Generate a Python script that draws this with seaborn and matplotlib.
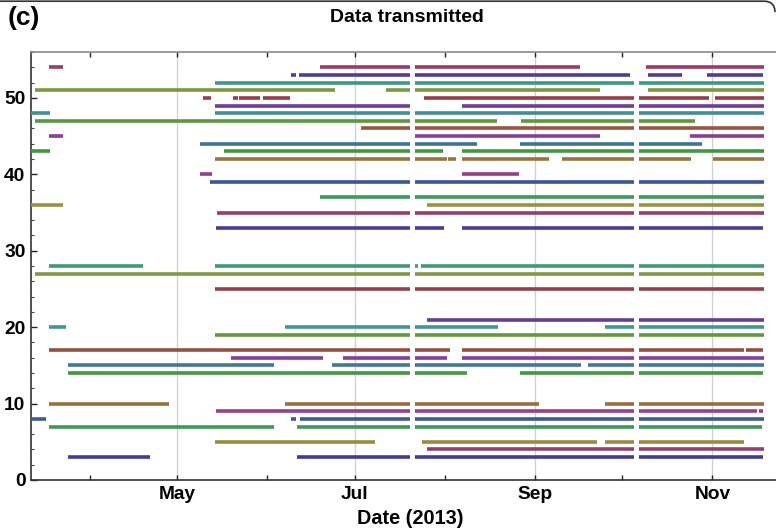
import colorsys
import numpy as np
import pandas as pd
import matplotlib
matplotlib.use("Agg")
import matplotlib.pyplot as plt
import matplotlib.dates as mdates
from matplotlib.path import Path
from matplotlib.patches import PathPatch
from matplotlib.ticker import MultipleLocator, FixedLocator
import seaborn as sns

# ---------------- data (day-of-year 2013, start/end of transmission periods) -------------
seg_03 = [(83.3, 111.5), (162.1, 201.0), (202.8, 278.2), (279.9, 322.3)]
seg_04 = [(206.9, 278.2), (279.9, 322.7)]
seg_05 = [(134.0, 189.1), (205.2, 265.2), (268.1, 278.2), (279.9, 315.7)]
seg_07 = [(76.9, 154.3), (162.1, 201.0), (202.8, 278.2), (279.9, 322.0)]
seg_08 = [(70.7, 75.9), (160.1, 161.7), (163.1, 201.0), (202.8, 278.2), (279.9, 322.7)]
seg_09 = [(134.3, 201.0), (202.8, 278.2), (279.9, 320.3), (320.9, 322.3)]
seg_10 = [(76.9, 118.2), (158.0, 201.0), (202.8, 245.4), (268.1, 278.2), (279.9, 322.7)]
seg_14 = [(83.3, 201.0), (202.8, 220.7), (239.0, 278.2), (279.9, 322.3)]
seg_15 = [(83.3, 154.3), (174.3, 201.0), (202.8, 259.8), (262.1, 278.2), (279.9, 322.7)]
seg_16 = [(139.5, 171.0), (178.0, 201.0), (202.8, 213.8), (219.0, 278.2), (279.9, 322.7)]
seg_17 = [(76.9, 201.0), (202.8, 214.8), (219.0, 278.2), (279.9, 315.9), (316.6, 322.3)]
seg_19 = [(134.0, 201.0), (202.8, 278.2), (279.9, 322.7)]
seg_20 = [(76.9, 82.6), (158.0, 201.0), (202.8, 231.2), (268.1, 278.2), (279.9, 322.7)]
seg_21 = [(206.9, 278.2), (279.9, 322.7)]
seg_25 = [(134.0, 201.0), (202.8, 278.2), (279.9, 322.7)]
seg_27 = [(72.1, 201.0), (202.8, 278.2), (279.9, 322.7)]
seg_28 = [(76.9, 109.3), (134.0, 201.0), (202.8, 203.7), (204.8, 278.2), (279.9, 322.7)]
seg_33 = [(134.3, 201.0), (202.8, 212.8), (219.0, 278.2), (279.9, 322.3)]
seg_35 = [(134.8, 201.0), (202.8, 278.2), (279.9, 322.7)]
seg_36 = [(70.7, 81.6), (206.9, 278.2), (279.9, 322.7)]
seg_37 = [(170.1, 201.0), (202.8, 278.2), (279.9, 322.7)]
seg_39 = [(132.3, 201.0), (202.8, 278.2), (279.9, 322.7)]
seg_40 = [(128.8, 133.0), (219.0, 238.5)]
seg_42 = [(134.0, 201.0), (202.8, 213.9), (214.2, 216.9), (219.0, 248.9),
          (253.2, 278.2), (279.9, 297.7), (305.2, 322.7)]
seg_43 = [(70.7, 77.1), (137.1, 201.0), (202.8, 212.4), (219.0, 278.2), (279.9, 322.7)]
seg_44 = [(128.8, 201.0), (202.8, 224.2), (239.0, 278.2), (279.9, 301.4)]
seg_45 = [(76.9, 81.6), (202.8, 266.3), (297.3, 322.7)]
seg_46 = [(184.0, 201.0), (202.8, 278.2), (279.9, 322.7)]
seg_47 = [(72.1, 201.0), (202.8, 230.9), (239.2, 278.2), (279.9, 299.0)]
seg_48 = [(70.7, 77.1), (134.0, 201.0), (202.8, 278.2), (279.9, 322.7)]
seg_49 = [(134.0, 201.0), (219.0, 278.2), (279.9, 322.7)]
seg_50 = [(130.0, 132.6), (140.3, 141.8), (142.2, 149.5), (150.3, 159.6),
          (205.9, 278.2), (279.9, 303.9), (305.9, 322.7)]
seg_51 = [(72.1, 175.1), (192.8, 201.0), (202.8, 266.3), (283.0, 322.7)]
seg_52 = [(134.0, 201.0), (202.8, 278.2), (279.9, 322.7)]
seg_53 = [(160.1, 161.7), (162.8, 201.0), (202.8, 276.5), (283.0, 294.6), (303.2, 322.3)]
seg_54 = [(76.9, 81.6), (170.1, 201.0), (202.8, 259.4), (282.0, 322.7)]

levels = [3, 4, 5, 7, 8, 9, 10, 14, 15, 16, 17, 19, 20, 21, 25, 27, 28, 33, 35, 36,
          37, 39, 40, 42, 43, 44, 45, 46, 47, 48, 49, 50, 51, 52, 53, 54]
level_segments = [seg_03, seg_04, seg_05, seg_07, seg_08, seg_09, seg_10, seg_14, seg_15,
                  seg_16, seg_17, seg_19, seg_20, seg_21, seg_25, seg_27, seg_28, seg_33,
                  seg_35, seg_36, seg_37, seg_39, seg_40, seg_42, seg_43, seg_44, seg_45,
                  seg_46, seg_47, seg_48, seg_49, seg_50, seg_51, seg_52, seg_53, seg_54]

month_labels = ["May", "Jul", "Sep", "Nov"]
title = "Data transmitted"
xlabel = "Date (2013)"
panel_label = "(c)"

# ---------------- build long table ----------------
base = pd.Timestamp("2013-01-01")
rows = []
sid = 0
for lev, segs in zip(levels, level_segments):
    for s, e in segs:
        for d in (s, e):
            rows.append({"date": base + pd.to_timedelta(d - 1, unit="D"),
                         "level": lev, "seg": sid})
        sid += 1
df = pd.DataFrame(rows)

# Mathematica-like default colour sequence (golden-ratio hue steps)
palette = {}
for k, lev in enumerate(levels):
    h = (0.67 + 0.2360679775 * k) % 1.0
    palette[lev] = colorsys.hsv_to_rgb(h, 0.6, 0.6)

# ---------------- figure ----------------
sns.set_style("ticks")
plt.rcParams["font.family"] = ["Liberation Sans", "DejaVu Sans"]
plt.rcParams["font.weight"] = "bold"
plt.rcParams["text.color"] = "black"
plt.rcParams["xtick.color"] = "black"
plt.rcParams["ytick.color"] = "black"

W, H = 776, 530
fig = plt.figure(figsize=(W / 100, H / 100), dpi=100)
ax = fig.add_axes([31 / W, (H - 480) / H, (786 - 31) / W, (480 - 52) / H])

ax.grid(axis="x", which="major", color="#cfcfcf", lw=0.9, zorder=0)

sns.lineplot(data=df, x="date", y="level", hue="level", units="seg",
             estimator=None, palette=palette, legend=False, sort=False,
             lw=2.6, solid_capstyle="butt", ax=ax, zorder=3)

ax.set_xlim(base + pd.to_timedelta(70.7 - 1, unit="D"),
            base + pd.to_timedelta(330.3 - 1, unit="D"))
ax.set_ylim(0, 56)

# x ticks
major = [pd.Timestamp(f"2013-{m:02d}-01") for m in (5, 7, 9, 11)]
minor = [pd.Timestamp(f"2013-{m:02d}-01") for m in (4, 6, 8, 10)]
ax.xaxis.set_major_locator(FixedLocator(mdates.date2num(major)))
ax.xaxis.set_minor_locator(FixedLocator(mdates.date2num(minor)))
ax.set_xticklabels(month_labels)
ax.yaxis.set_major_locator(MultipleLocator(10))
ax.yaxis.set_minor_locator(MultipleLocator(2))

ax.tick_params(axis="x", which="both", direction="in", top=True, bottom=True,
               length=3.5, width=1.0, color="#222222", labelcolor="black",
               labelsize=13.8, pad=4)
ax.tick_params(axis="y", which="major", direction="in", left=True, right=False,
               length=4, width=1.0, color="#222222", labelcolor="black",
               labelsize=13.8, pad=4)
ax.tick_params(axis="y", which="minor", direction="in", left=True, right=False,
               length=2.2, width=0.8, color="#444444")
for lab in ax.get_xticklabels() + ax.get_yticklabels():
    lab.set_fontweight("bold")

for side in ("left", "bottom"):
    ax.spines[side].set_color("#333333")
    ax.spines[side].set_linewidth(1.2)
ax.spines["top"].set_color("#8a8a8a")
ax.spines["top"].set_linewidth(1.2)
ax.spines["right"].set_visible(False)

ax.set_ylabel("")
ax.set_xlabel(xlabel, fontsize=14.3, fontweight="bold", va="center", color="black")
ax.xaxis.set_label_coords((410 - 31) / (786 - 31), -(519 - 480) / (480 - 52))

fig.text(407 / W, 1 - 18 / H, title, ha="center", va="center",
         fontsize=14, fontweight="bold", color="black")
fig.text(8 / W, 1 - 18 / H, panel_label, ha="left", va="center",
         fontsize=19, fontweight="bold", color="black")

# rounded panel frame edge visible at the top
def fx(px):
    return px / W

def fy(py):
    return 1 - py / H

verts = [(fx(0), fy(1.2)), (fx(764), fy(1.2)),
         (fx(775), fy(1.2)), (fx(775), fy(12))]
codes = [Path.MOVETO, Path.LINETO, Path.CURVE3, Path.CURVE3]
fig.patches.append(PathPatch(Path(verts, codes), transform=fig.transFigure,
                             fill=False, edgecolor="#333333", lw=1.2))

fig.savefig("out.png", dpi=100)
